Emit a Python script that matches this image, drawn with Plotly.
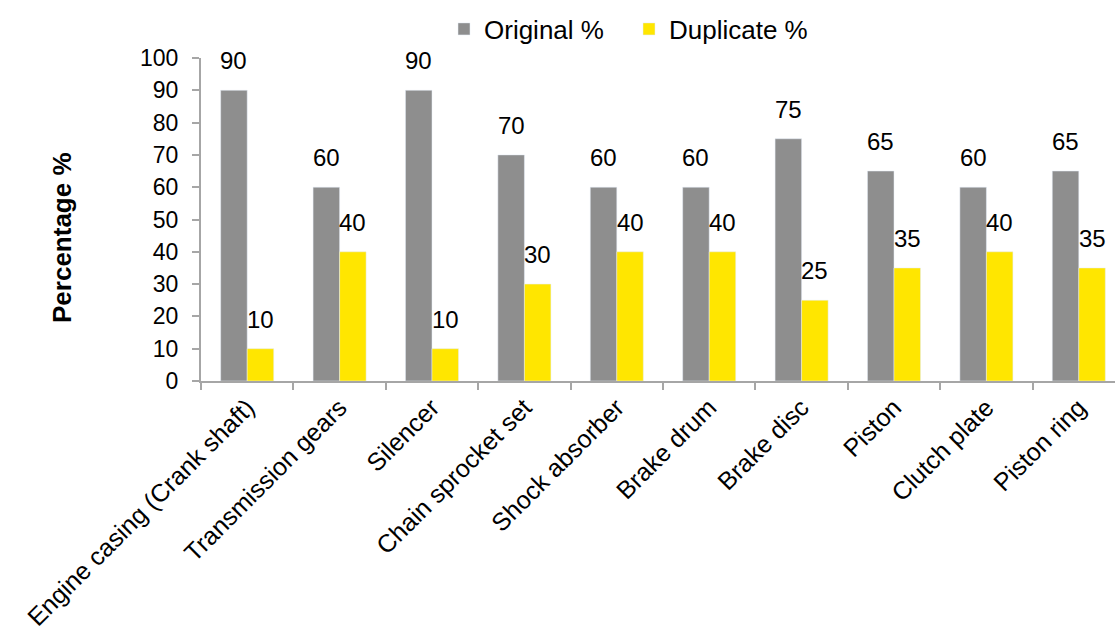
import plotly.graph_objects as go

categories = ["Engine casing (Crank shaft)", "Transmission gears", "Silencer",
              "Chain sprocket set", "Shock absorber", "Brake drum", "Brake disc",
              "Piston", "Clutch plate", "Piston ring"]
original = [90, 60, 90, 70, 60, 60, 75, 65, 60, 65]
duplicate = [10, 40, 10, 30, 40, 40, 25, 35, 40, 35]
y_ticks = [0, 10, 20, 30, 40, 50, 60, 70, 80, 90, 100]

GRAY = "#8E8E8E"
YELLOW = "#FFE600"
FONT = "Liberation Sans, Arial, sans-serif"

W, H = 1115, 644
L, R, T, B = 201, 0, 58, 263
plot_w = W - L - R
plot_h = H - T - B
cat_px = 92.4
x_max = -0.5 + plot_w / cat_px

fig = go.Figure()
fig.add_bar(x=categories, y=original, name="Original %", marker_color=GRAY)
fig.add_bar(x=categories, y=duplicate, name="Duplicate %", marker_color=YELLOW)

half = 13.3
for c, v in zip(categories, original):
    fig.add_annotation(x=c, y=v, text=str(v), showarrow=False, xshift=-half,
                       yanchor="bottom", yshift=14, font=dict(size=24, color="#000", family=FONT))
for c, v in zip(categories, duplicate):
    fig.add_annotation(x=c, y=v, text=str(v), showarrow=False, xshift=half,
                       yanchor="bottom", yshift=14, font=dict(size=24, color="#000", family=FONT))

fig.add_annotation(xref="paper", yref="paper", x=-(L - 62) / plot_w, y=(H - B - 238) / plot_h,
                   text="<b>Percentage %</b>", textangle=-90, showarrow=False,
                   xanchor="center", yanchor="middle",
                   font=dict(size=26, color="#000", family=FONT))

fig.update_layout(
    width=W, height=H,
    margin=dict(l=L, r=R, t=T, b=B, pad=0, autoexpand=False),
    paper_bgcolor="white", plot_bgcolor="white",
    barmode="group", bargap=0.426, bargroupgap=0,
    font=dict(family=FONT, size=23, color="#000"),
    showlegend=True,
    legend=dict(orientation="h", xref="container", yref="container",
                x=444 / W, xanchor="left",
                y=1 - 29 / H, yanchor="middle",
                font=dict(size=26, color="#000", family=FONT),
                itemwidth=30, entrywidth=140, traceorder="normal"),
)
fig.update_xaxes(type="category", range=[-0.5, x_max], tickson="boundaries",
                 ticks="outside", ticklen=7, tickcolor="#A6A6A6", tickwidth=2,
                 showline=True, linecolor="#A6A6A6", linewidth=2, automargin=False,
                 tickangle=-45, tickfont=dict(size=25, family=FONT, color="#000"),
                 showgrid=False, zeroline=False)
fig.update_yaxes(range=[0, 100], tickvals=y_ticks, ticks="outside", ticklen=7,
                 tickcolor="#A6A6A6", tickwidth=2, showline=True, linecolor="#A6A6A6",
                 linewidth=2, showgrid=False, zeroline=False, automargin=False,
                 ticklabelstandoff=9,
                 tickfont=dict(size=23, family=FONT, color="#000"))

fig.write_html("out.html")
